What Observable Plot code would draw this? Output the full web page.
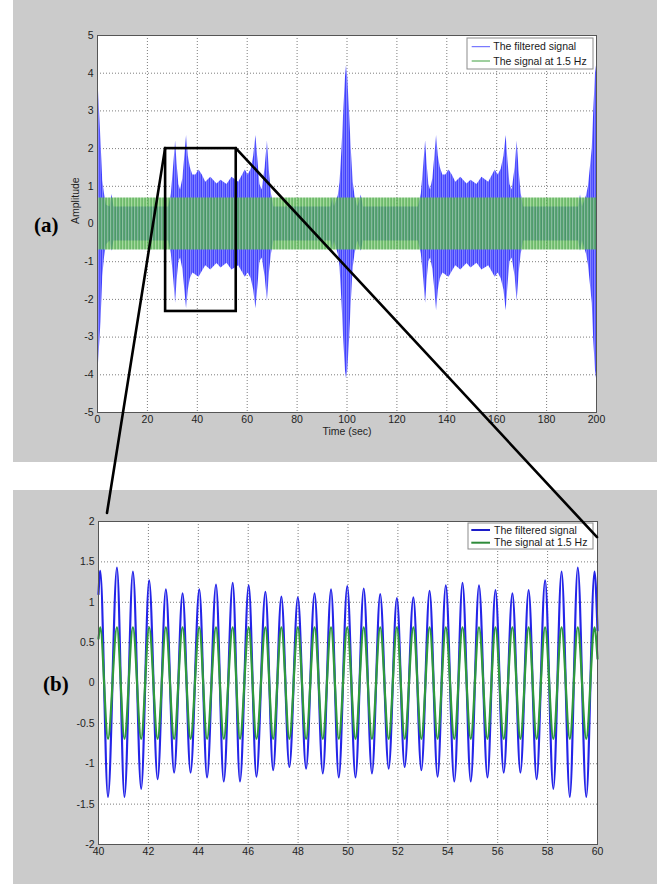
<!DOCTYPE html>
<html>
<head>
<meta charset="utf-8">
<script src="https://cdn.jsdelivr.net/npm/d3@7"></script>
<script src="https://cdn.jsdelivr.net/npm/@observablehq/plot@0.6"></script>
<style>
html, body { margin: 0; padding: 0; background: #ffffff; }
#page { position: relative; width: 657px; height: 884px; overflow: hidden; font-family: "Liberation Sans", Arial, sans-serif; }
.panel { position: absolute; left: 13px; width: 644px; background: #cbcbcb; }
#panelA { top: 0; height: 462px; }
#panelB { top: 490px; height: 394px; }
.tag { position: absolute; font-family: "Liberation Serif", "Times New Roman", serif; font-weight: bold; font-size: 21px; color: #000; line-height: 1; }
#overlay { position: absolute; left: 0; top: 0; pointer-events: none; }
</style>
</head>
<body>
<div id="page">
  <div class="panel" id="panelA"></div>
  <div class="panel" id="panelB"></div>
  <div class="tag" style="left:34px; top:215px;">(a)</div>
  <div class="tag" style="left:43px; top:674px;">(b)</div>
</div>
<script>
// ---------------- DATA ----------------
const seriesNames = ["The filtered signal", "The signal at 1.5 Hz"];

// Panel (a) axes
const xTicksA = [0, 20, 40, 60, 80, 100, 120, 140, 160, 180, 200];
const yTicksA = [-5, -4, -3, -2, -1, 0, 1, 2, 3, 4, 5];
const xLabelA = "Time (sec)";
const yLabelA = "Amplitude";

// Panel (a): envelope of the filtered signal (time, upper, lower)
const envTimeA = [0, 0.6, 1.4, 2.1, 2.8, 3.6, 5.0, 5.8, 6.6, 28.5, 29.6, 30.6, 31.3, 31.9, 32.6, 33.3, 34.2, 35.0, 35.7, 36.4, 37.2, 38.2, 39.4, 40.7, 42.0, 43.4, 45.4, 47.9, 49.5, 51.9, 53.9, 56.6, 59.2, 60.4, 61.6, 62.6, 63.5, 64.3, 65.1, 66.0, 67.2, 68.1, 68.9, 69.7, 70.7, 93.6, 94.3, 95.0, 96.5, 97.2, 98.0, 98.7, 99.4, 99.8, 100.3, 101.0, 101.7, 102.5, 103.2, 104.3, 105.7, 106.6, 128.6, 129.8, 130.8, 131.5, 132.1, 132.8, 133.5, 134.4, 135.2, 135.9, 136.6, 137.4, 138.4, 139.6, 140.9, 142.2, 143.6, 145.6, 148.1, 149.7, 152.1, 154.1, 156.8, 159.4, 160.6, 161.8, 162.9, 163.8, 164.5, 165.3, 166.2, 167.4, 168.2, 169.0, 169.8, 170.8, 192.8, 193.6, 194.4, 196.0, 196.8, 198.3, 198.9, 199.6, 200];
const envHighA = [4.0, 3.3, 2.2, 1.15, 0.8, 0.5, 0.45, 0.78, 0.45, 0.45, 0.8, 1.6, 2.2, 1.6, 1.05, 0.9, 1.2, 1.8, 2.35, 1.8, 1.5, 1.3, 1.3, 1.43, 1.3, 1.11, 1.24, 1.06, 1.16, 1.05, 1.24, 1.11, 1.43, 1.3, 1.45, 1.8, 2.35, 1.7, 1.05, 0.9, 1.5, 2.2, 1.4, 0.8, 0.45, 0.45, 0.7, 0.45, 0.75, 1.1, 2.0, 3.0, 3.9, 4.2, 3.9, 3.0, 2.0, 1.1, 0.75, 0.45, 0.77, 0.45, 0.45, 0.8, 1.6, 2.2, 1.6, 1.05, 0.9, 1.2, 1.8, 2.35, 1.8, 1.5, 1.3, 1.3, 1.43, 1.3, 1.11, 1.24, 1.06, 1.16, 1.05, 1.24, 1.11, 1.43, 1.3, 1.45, 1.8, 2.35, 1.7, 1.05, 0.9, 1.5, 2.2, 1.4, 0.8, 0.45, 0.45, 0.77, 0.45, 0.75, 1.0, 2.0, 3.0, 4.0, 4.2];
const envLowA = [-4.1, -3.5, -2.6, -1.4, -0.9, -0.55, -0.45, -0.72, -0.45, -0.45, -0.8, -1.5, -2.1, -1.5, -1.0, -0.9, -1.2, -1.75, -2.25, -1.75, -1.45, -1.3, -1.35, -1.41, -1.26, -1.11, -1.22, -1.05, -1.17, -1.04, -1.22, -1.11, -1.41, -1.3, -1.45, -1.75, -2.25, -1.65, -1.0, -0.9, -1.4, -2.05, -1.3, -0.8, -0.45, -0.45, -0.68, -0.45, -0.8, -1.15, -2.1, -3.1, -3.9, -4.1, -3.9, -3.1, -2.1, -1.15, -0.8, -0.45, -0.72, -0.45, -0.45, -0.8, -1.5, -2.1, -1.5, -1.0, -0.9, -1.2, -1.75, -2.3, -1.75, -1.45, -1.3, -1.35, -1.41, -1.26, -1.11, -1.22, -1.05, -1.17, -1.04, -1.22, -1.11, -1.41, -1.3, -1.45, -1.75, -2.3, -1.65, -1.0, -0.9, -1.4, -2.05, -1.3, -0.8, -0.45, -0.45, -0.72, -0.45, -0.8, -1.1, -2.1, -3.1, -3.9, -4.1];

// Panel (a): the 1.5 Hz signal, constant amplitude over the record
const toneTimeA = [0, 200];
const toneAmpA = [0.69, 0.69];

// Panel (a): zoom box (time range, amplitude range)
const zoomBoxT = [27.3, 55.6];
const zoomBoxY = [-2.32, 2.0];

// Panel (b) axes
const xTicksB = [40, 42, 44, 46, 48, 50, 52, 54, 56, 58, 60];
const yTicksB = [-2, -1.5, -1, -0.5, 0, 0.5, 1, 1.5, 2];

// Panel (b): times of successive extrema (with the two window ends)
const timeB = [40.0, 40.07, 40.38, 40.74, 41.04, 41.38, 41.71, 42.03, 42.37, 42.70, 43.03, 43.37, 43.69, 44.04, 44.35, 44.71, 45.02, 45.38, 45.67, 46.02, 46.33, 46.69, 47.00, 47.33, 47.65, 47.99, 48.32, 48.66, 48.99, 49.32, 49.63, 49.97, 50.30, 50.63, 50.96, 51.29, 51.63, 51.96, 52.27, 52.62, 52.94, 53.27, 53.59, 53.92, 54.26, 54.59, 54.92, 55.25, 55.59, 55.91, 56.24, 56.59, 56.91, 57.24, 57.56, 57.90, 58.23, 58.56, 58.89, 59.21, 59.55, 59.88, 60.0];
const filteredB = [1.1, 1.39, -1.41, 1.43, -1.41, 1.38, -1.31, 1.27, -1.19, 1.16, -1.11, 1.11, -1.11, 1.16, -1.17, 1.22, -1.22, 1.24, -1.22, 1.21, -1.16, 1.13, -1.08, 1.07, -1.04, 1.06, -1.06, 1.11, -1.12, 1.16, -1.17, 1.20, -1.17, 1.17, -1.12, 1.10, -1.06, 1.05, -1.04, 1.06, -1.08, 1.14, -1.16, 1.21, -1.22, 1.24, -1.22, 1.21, -1.17, 1.15, -1.11, 1.11, -1.11, 1.15, -1.19, 1.27, -1.31, 1.38, -1.41, 1.43, -1.41, 1.38, 0.65];
const toneB = [0.55, 0.69, -0.69, 0.69, -0.69, 0.69, -0.69, 0.69, -0.69, 0.69, -0.69, 0.69, -0.69, 0.69, -0.69, 0.69, -0.69, 0.69, -0.69, 0.69, -0.69, 0.69, -0.69, 0.69, -0.69, 0.69, -0.69, 0.69, -0.69, 0.69, -0.69, 0.69, -0.69, 0.69, -0.69, 0.69, -0.69, 0.69, -0.69, 0.69, -0.69, 0.69, -0.69, 0.69, -0.69, 0.69, -0.69, 0.69, -0.69, 0.69, -0.69, 0.69, -0.69, 0.69, -0.69, 0.69, -0.69, 0.69, -0.69, 0.69, -0.69, 0.69, 0.3];

// Connector line ends, in panel (b) coordinates (time, amplitude)
const linkEndT = [40.36, 60.0];
const linkEndY = [2.1, 1.8];

// ---------------- STYLE ----------------
const FONT = "Liberation Sans, Arial, Helvetica, sans-serif";
const gridStyle = {stroke: "#7d7d7d", strokeOpacity: 1, strokeDasharray: "1,2", strokeWidth: 1};
const fmt = d => String(d);

// ---------------- TABLES ----------------
const envA = envTimeA.map((t, i) => ({t, hi: envHighA[i], lo: envLowA[i]}));
const toneA = toneTimeA.map((t, i) => ({t, hi: toneAmpA[i], lo: -toneAmpA[i]}));
const boxA = [{x1: zoomBoxT[0], x2: zoomBoxT[1], y1: zoomBoxY[0], y2: zoomBoxY[1]}];
const tabB = timeB.map((t, i) => ({t, f: filteredB[i], g: toneB[i]}));

function addPattern(svg, id, colors) {
  let defs = d3.select(svg).select("defs");
  if (defs.empty()) defs = d3.select(svg).insert("defs", ":first-child");
  const p = defs.append("pattern").attr("id", id).attr("patternUnits", "userSpaceOnUse")
    .attr("width", colors.length).attr("height", 4);
  colors.forEach((c, i) => p.append("rect").attr("x", i).attr("y", 0).attr("width", 1).attr("height", 4).attr("fill", c));
}

function addLegend(svg, left, top, w, h, rows, lineW, textX, lineX0, lineX1) {
  const g = d3.select(svg).append("g").attr("text-anchor", "start");
  g.append("rect").attr("x", left).attr("y", top).attr("width", w).attr("height", h)
    .attr("fill", "#ffffff").attr("stroke", "#8c8c8c").attr("stroke-width", 1);
  rows.forEach(r => {
    g.append("line").attr("x1", left + lineX0).attr("x2", left + lineX1)
      .attr("y1", top + r.dy).attr("y2", top + r.dy)
      .attr("stroke", r.color).attr("stroke-width", lineW);
    g.append("text").attr("x", left + textX).attr("y", top + r.dy).attr("dy", "0.36em")
      .attr("text-anchor", "start")
      .attr("font-family", FONT).attr("font-size", "10.5px").attr("fill", "#1a1a1a").text(r.label);
  });
}

// ---------------- PANEL (a) ----------------
const chartA = Plot.plot({
  width: 644, height: 462,
  marginLeft: 84, marginRight: 61, marginTop: 35, marginBottom: 50,
  style: {background: "transparent", fontFamily: FONT, fontSize: "10.5px", color: "#1e1e1e"},
  x: {domain: [0, 200]},
  y: {domain: [-5, 5]},
  marks: [
    Plot.frame({fill: "#ffffff", stroke: "none"}),
    Plot.gridX({ticks: xTicksA, ...gridStyle}),
    Plot.gridY({ticks: yTicksA, ...gridStyle}),
    Plot.areaY(envA, {x: "t", y1: "lo", y2: "hi", fill: "url(#patBlueA)", curve: "linear"}),
    Plot.areaY(toneA, {x: "t", y1: "lo", y2: "hi", fill: "url(#patGreenA)", fillOpacity: 0.8}),
    Plot.rect(boxA, {x1: "x1", x2: "x2", y1: "y1", y2: "y2", fill: "none", stroke: "#000", strokeWidth: 2.6}),
    Plot.frame({stroke: "#555", strokeWidth: 1}),
    Plot.axisX({ticks: xTicksA, tickSize: 0, tickPadding: 3, tickFormat: fmt, label: null}),
    Plot.axisY({ticks: yTicksA, tickSize: 0, tickPadding: 4, tickFormat: fmt, label: null}),
    Plot.text([xLabelA], {frameAnchor: "bottom", dy: 22, fontSize: 10.5, fill: "#1e1e1e"}),
    Plot.text([yLabelA], {frameAnchor: "left", dx: -22, rotate: -90, fontSize: 10.5, fill: "#1e1e1e"})
  ]
});
addPattern(chartA, "patBlueA", ["#4040ff", "#8484ff", "#5353ff", "#7070ff"]);
addPattern(chartA, "patGreenA", ["#4aa847", "#8fd087", "#58b452"]);
{
  const xr = chartA.scale("x").range, yr = chartA.scale("y").range;
  const right = Math.max(...xr), top = Math.min(...yr);
  addLegend(chartA, right - 129, top + 3, 126, 31, [
    {label: seriesNames[0], color: "#5a5aff", dy: 8.7},
    {label: seriesNames[1], color: "#3f9f3f", dy: 23}
  ], 1, 26.3, 4.7, 23);
}
document.getElementById("panelA").appendChild(chartA);

// ---------------- PANEL (b) ----------------
const chartB = Plot.plot({
  width: 644, height: 394,
  marginLeft: 85, marginRight: 60, marginTop: 31, marginBottom: 40,
  style: {background: "transparent", fontFamily: FONT, fontSize: "10.5px", color: "#1e1e1e"},
  x: {domain: [40, 60]},
  y: {domain: [-2, 2]},
  marks: [
    Plot.frame({fill: "#ffffff", stroke: "none"}),
    Plot.gridX({ticks: xTicksB, ...gridStyle}),
    Plot.gridY({ticks: yTicksB, ...gridStyle}),
    Plot.line(tabB, {x: "t", y: "f", stroke: "#2424e8", strokeWidth: 2.2, curve: "monotone-x"}),
    Plot.line(tabB, {x: "t", y: "g", stroke: "#2f9a3c", strokeWidth: 2.2, curve: "monotone-x"}),
    Plot.frame({stroke: "#555", strokeWidth: 1}),
    Plot.axisX({ticks: xTicksB, tickSize: 0, tickPadding: 3, tickFormat: fmt, label: null}),
    Plot.axisY({ticks: yTicksB, tickSize: 0, tickPadding: 4, tickFormat: fmt, label: null})
  ]
});
{
  const xr = chartB.scale("x").range, yr = chartB.scale("y").range;
  const right = Math.max(...xr), top = Math.min(...yr);
  addLegend(chartB, right - 129, top + 2, 125, 26, [
    {label: seriesNames[0], color: "#1c1cc8", dy: 7},
    {label: seriesNames[1], color: "#2e8b3a", dy: 19.7}
  ], 2, 26, 3.3, 22);
}
document.getElementById("panelB").appendChild(chartB);

// ---------------- CONNECTOR LINES ----------------
{
  const offA = {x: 13, y: 0}, offB = {x: 13, y: 490};
  const xA = chartA.scale("x"), yA = chartA.scale("y");
  const xB = chartB.scale("x"), yB = chartB.scale("y");
  const starts = [
    [offA.x + xA.apply(zoomBoxT[0]), offA.y + yA.apply(zoomBoxY[1])],
    [offA.x + xA.apply(zoomBoxT[1]), offA.y + yA.apply(zoomBoxY[1])]
  ];
  const ends = linkEndT.map((t, i) => [offB.x + xB.apply(t), offB.y + yB.apply(linkEndY[i])]);
  const ov = d3.select("#page").append("svg").attr("id", "overlay").attr("width", 657).attr("height", 884);
  starts.forEach((s, i) => {
    ov.append("line").attr("x1", s[0]).attr("y1", s[1]).attr("x2", ends[i][0]).attr("y2", ends[i][1])
      .attr("stroke", "#000").attr("stroke-width", 2.6).attr("stroke-linecap", "round");
  });
}
</script>
</body>
</html>
